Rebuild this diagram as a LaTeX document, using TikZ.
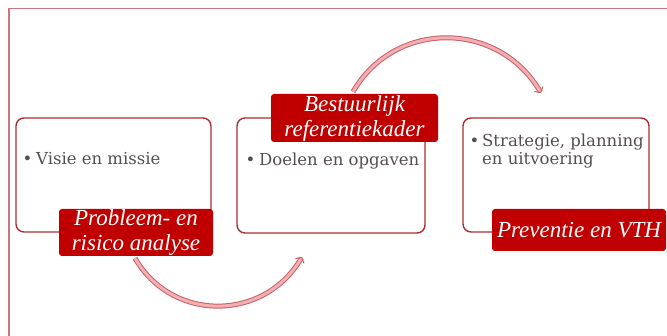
\documentclass[tikz,border=0pt]{standalone}
\usepackage{fontspec}
\setmainfont{DejaVu Serif}
\newfontfamily\labelfont{Liberation Serif}
\usetikzlibrary{arrows.meta,calc}
\definecolor{framecol}{RGB}{200,120,125}
\definecolor{boxcol}{RGB}{168,48,48}
\definecolor{labelcol}{RGB}{192,0,0}
\definecolor{bodytext}{RGB}{85,78,78}
\definecolor{arcout}{RGB}{200,95,105}
\definecolor{arcfill}{RGB}{242,175,178}
\newcommand{\bulletmark}[1]{\makebox[#1][l]{\hspace*{-2.5pt}\textbullet}}
\begin{document}
\begin{tikzpicture}[x=1pt,y=1pt,
  stepbox/.style={draw=boxcol, line width=1.4pt, rounded corners=8pt, fill=white},
  labelbox/.style={fill=labelcol, rounded corners=3pt, text=white, inner sep=0pt, align=center,
    font=\labelfont\itshape\fontsize{23}{25}\selectfont},
  bodytxt/.style={text=bodytext, inner sep=0pt, align=left, anchor=base west,
    font=\fontsize{16.5}{18}\selectfont},
  flowarc/.style={draw=arcout, double=arcfill, double distance=3pt, line width=1pt,
    -{Straight Barb[length=4pt,width=10pt]}}]
\useasboundingbox (0,0) rectangle (667,336);
% outer frame
\draw[framecol, line width=1.5pt] (672,327.5) -- (9,327.5) -- (9,-4);
% boxes
\draw[stepbox] (16,104) rectangle (211,218) coordinate (b1);
\draw[stepbox] (237,103) rectangle (425,218) coordinate (b2);
\draw[stepbox] (463,104) rectangle (649,218) coordinate (b3);
% body texts
\node[bodytxt] (t1) at (25,171) {\bulletmark{11pt}Visie en missie};
\node[bodytxt] (t2) at (248,170) {\bulletmark{11pt}Doelen en opgaven};
\node[bodytxt] (t3) at (472,171) {\bulletmark{10pt}Strategie, planning\\\hspace*{10pt}en uitvoering};
% labels
\node[labelbox, minimum width=154pt, minimum height=47pt] (l1) at (136,103.5) {Probleem- en\\risico analyse};
\node[labelbox, minimum width=167pt, minimum height=48pt] (l2) at (354.5,218) {Bestuurlijk\\referentiekader};
\node[labelbox, minimum width=174pt, minimum height=42pt] (l3) at (579,106) {Preventie en VTH};
% arcs
\coordinate (e1) at (302,79);
\coordinate (e2) at (541,243);
\draw[flowarc] ($(l1.south)+(-1,-2)$) to[out=-60, in=-120, looseness=1.14] (e1);
\draw[flowarc] ($(l2.north)+(-1.5,2)$) to[out=60, in=120, looseness=1.14] (e2);
\end{tikzpicture}
\end{document}
